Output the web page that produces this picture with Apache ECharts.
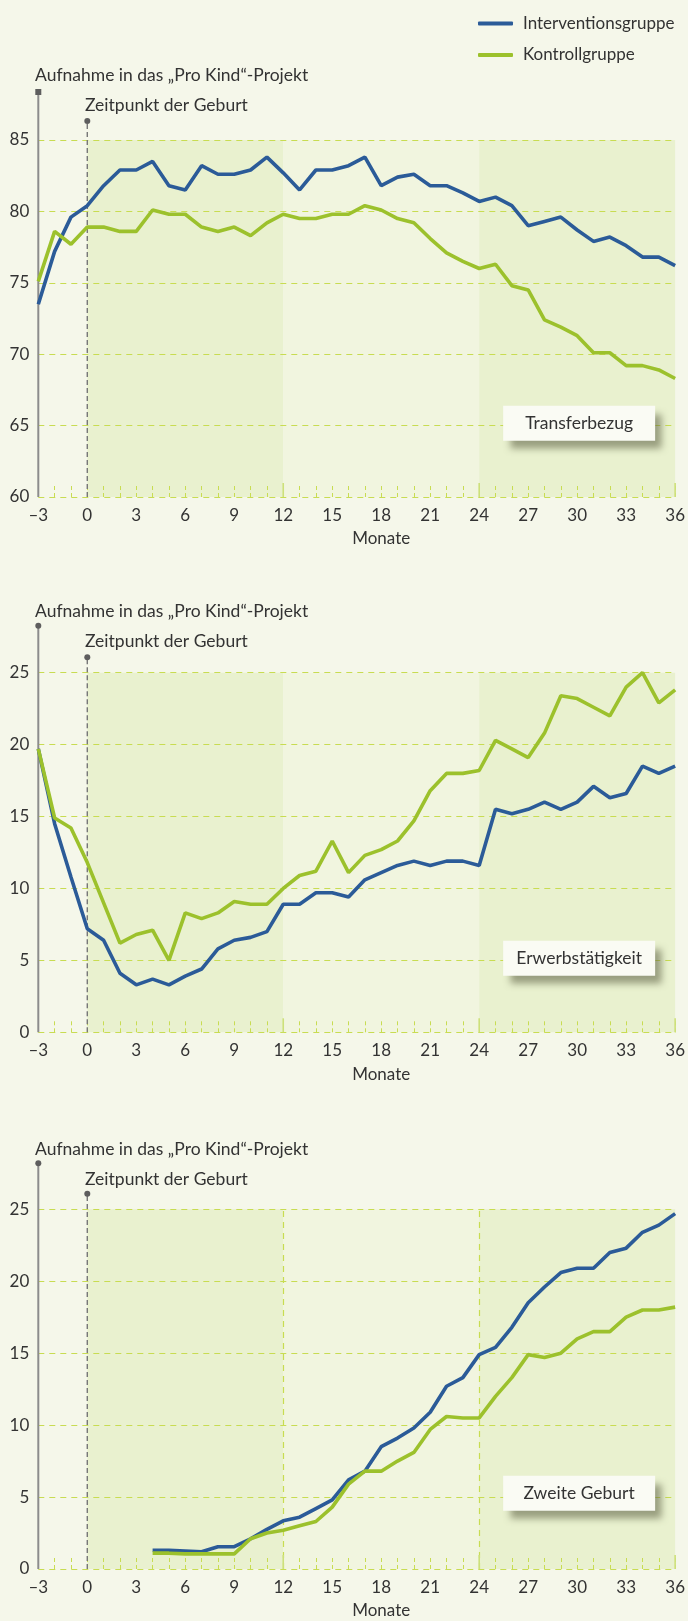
<!DOCTYPE html>
<html><head><meta charset="utf-8">
<script src="https://cdn.jsdelivr.net/npm/echarts@6/dist/echarts.min.js"></script>
<style>html,body{margin:0;padding:0;background:#f5f7ea;}#c{width:688px;height:1621px;}</style>
</head><body><div id="c"></div>
<script>
// ---------- data ----------
const months = [-3,-2,-1,0,1,2,3,4,5,6,7,8,9,10,11,12,13,14,15,16,17,18,19,20,21,22,23,24,25,26,27,28,29,30,31,32,33,34,35,36];
const seriesNames = ['Interventionsgruppe', 'Kontrollgruppe'];
const panelLabels = ['Transferbezug', 'Erwerbstätigkeit', 'Zweite Geburt'];
const titleText = 'Aufnahme in das „Pro Kind“-Projekt';
const birthText = 'Zeitpunkt der Geburt';
const xName = 'Monate';

const transferIntervention = [73.5,77.2,79.6,80.4,81.8,82.9,82.9,83.5,81.8,81.5,83.2,82.6,82.6,82.9,83.8,82.7,81.5,82.9,82.9,83.2,83.8,81.8,82.4,82.6,81.8,81.8,81.3,80.7,81.0,80.4,79.0,79.3,79.6,78.7,77.9,78.2,77.6,76.8,76.8,76.2];
const transferKontroll = [75.1,78.6,77.7,78.9,78.9,78.6,78.6,80.1,79.8,79.8,78.9,78.6,78.9,78.3,79.2,79.8,79.5,79.5,79.8,79.8,80.4,80.1,79.5,79.2,78.1,77.1,76.5,76.0,76.3,74.8,74.5,72.4,71.9,71.3,70.1,70.1,69.2,69.2,68.9,68.3];

const employmentIntervention = [19.7,14.5,10.8,7.2,6.4,4.1,3.3,3.7,3.3,3.9,4.4,5.8,6.4,6.6,7.0,8.9,8.9,9.7,9.7,9.4,10.6,11.1,11.6,11.9,11.6,11.9,11.9,11.6,15.5,15.2,15.5,16.0,15.5,16.0,17.1,16.3,16.6,18.5,18.0,18.5];
const employmentKontroll = [19.7,14.9,14.2,11.8,9.0,6.2,6.8,7.1,5.0,8.3,7.9,8.3,9.1,8.9,8.9,10.0,10.9,11.2,13.3,11.1,12.3,12.7,13.3,14.7,16.8,18.0,18.0,18.2,20.3,19.7,19.1,20.8,23.4,23.2,22.6,22.0,24.0,25.0,22.9,23.8];

const birthIntervention = [null,null,null,null,null,null,null,1.3,1.3,1.25,1.2,1.55,1.55,2.1,2.75,3.35,3.6,4.2,4.8,6.2,6.8,8.5,9.1,9.8,10.9,12.7,13.3,14.9,15.4,16.8,18.5,19.6,20.6,20.9,20.9,22.0,22.3,23.4,23.9,24.7];
const birthKontroll = [null,null,null,null,null,null,null,1.1,1.1,1.05,1.05,1.05,1.05,2.1,2.5,2.7,3.0,3.3,4.3,5.9,6.8,6.8,7.5,8.1,9.7,10.6,10.5,10.5,12.0,13.3,14.9,14.7,15.0,16.0,16.5,16.5,17.5,18.0,18.0,18.2];

const yRanges = [[60, 85], [0, 25], [0, 25]];
const bandEdges = [0, 12, 24, 36];
const vGridMonths = [12, 24];   // only in third panel
const panelData = [
  [transferIntervention, transferKontroll],
  [employmentIntervention, employmentKontroll],
  [birthIntervention, birthKontroll]
];

// ---------- layout / style ----------
const FONT = 'Lato, "Liberation Sans", sans-serif';
const BLUE = '#2b5b98', GREEN = '#9cc12c';
const BAND_DARK = '#e9f1cf', BAND_LIGHT = '#f1f5df';
const GRIDC = '#c8dc52';
const TXT = '#333333';
const layout = [
  {top: 140,   height: 357,   axisExt: 48, dotExt: 19,   titleOff: 64.5, birthOff: 35, boxOff: 56.3, marker: 'rect'},
  {top: 672.7, height: 359.6, axisExt: 47, dotExt: 15.5, titleOff: 61,   birthOff: 31, boxOff: 56.6, marker: 'circle'},
  {top: 1209.3,height: 359.7, axisExt: 46, dotExt: 15.5, titleOff: 60,   birthOff: 30, boxOff: 58.3, marker: 'circle'}
];

const chart = echarts.init(document.getElementById('c'), null, {renderer: 'canvas'});

const grids = [], xAxes = [], yAxes = [], series = [];
layout.forEach((L, i) => {
  grids.push({left: 38.3, right: 11, top: L.top, height: L.height});
  const tickStyle = {color: GRIDC, width: 1, type: [4, 3]};
  xAxes.push({
    type: 'value', gridIndex: i, min: -3, max: 36, interval: 3, z: 5,
    axisLine: {show: false},
    axisTick: {show: true, inside: true, length: 14, lineStyle: tickStyle},
    minorTick: {show: true, splitNumber: 3, length: 14, lineStyle: tickStyle},
    splitLine: {show: false},
    axisLabel: {fontSize: 17, color: TXT, margin: 10, fontFamily: FONT,
      formatter: v => (v < 0 ? '–' + Math.abs(v) : String(v))}
  });
  yAxes.push({
    type: 'value', gridIndex: i, min: yRanges[i][0], max: yRanges[i][1], interval: 5, z: 5,
    axisLine: {show: false}, axisTick: {show: false},
    splitLine: {show: true, lineStyle: {color: GRIDC, width: 1.2, type: [6, 5]}},
    axisLabel: {fontSize: 17, color: TXT, margin: 9, fontFamily: FONT}
  });
  const bands = [];
  for (let b = 0; b < bandEdges.length - 1; b++) {
    bands.push([{xAxis: bandEdges[b], itemStyle: {color: b % 2 === 0 ? BAND_DARK : BAND_LIGHT}}, {xAxis: bandEdges[b + 1]}]);
  }
  const bandSeries = {
    type: 'line', xAxisIndex: i, yAxisIndex: i, data: [], z: 1, silent: true,
    markArea: {silent: true, data: bands}
  };
  if (i === 2) {
    bandSeries.markLine = {
      silent: true, symbol: 'none', label: {show: false},
      lineStyle: {color: GRIDC, width: 1.2, type: [6, 5]},
      data: vGridMonths.map(m => ({xAxis: m}))
    };
  }
  series.push(bandSeries);
  panelData[i].forEach((arr, s) => {
    series.push({
      type: 'line', name: seriesNames[s], xAxisIndex: i, yAxisIndex: i, z: 10,
      data: months.map((m, k) => [m, arr[k]]),
      symbol: 'none', connectNulls: false,
      lineStyle: {color: s === 0 ? BLUE : GREEN, width: 3.6},
      itemStyle: {color: s === 0 ? BLUE : GREEN}
    });
  });
});

chart.setOption({
  backgroundColor: '#f5f7ea',
  animation: false,
  textStyle: {fontFamily: FONT},
  legend: {
    data: seriesNames, orient: 'vertical', left: 473, top: 8.5,
    itemWidth: 35, itemHeight: 4, icon: 'roundRect', itemGap: 11.5,
    textStyle: {fontSize: 17, color: TXT, fontFamily: FONT, lineHeight: 20, padding: [0, 0, 0, 5]}
  },
  grid: grids, xAxis: xAxes, yAxis: yAxes, series: series
});

// ---------- decorations derived from the axes ----------
const P = (i, x, y) => chart.convertToPixel({gridIndex: i}, [x, y]);
const elems = [];
layout.forEach((L, i) => {
  const [ymin, ymax] = yRanges[i];
  const [ax, bottom] = P(i, -3, ymin);
  const [, top] = P(i, -3, ymax);
  const [zx] = P(i, 0, ymin);
  const [rx] = P(i, 36, ymin);
  const axTop = top - L.axisExt;
  // y axis line
  elems.push({type: 'line', z: 7, shape: {x1: ax, y1: bottom, x2: ax, y2: axTop},
    style: {stroke: '#8c8c8c', lineWidth: 2}});
  if (L.marker === 'rect') {
    elems.push({type: 'rect', z: 8, shape: {x: ax - 3, y: axTop - 3, width: 6, height: 6}, style: {fill: '#5e5e5e'}});
  } else {
    elems.push({type: 'circle', z: 8, shape: {cx: ax, cy: axTop, r: 3}, style: {fill: '#5e5e5e'}});
  }
  // birth line
  const dTop = top - L.dotExt;
  elems.push({type: 'line', z: 7, shape: {x1: zx, y1: bottom, x2: zx, y2: dTop},
    style: {stroke: '#777', lineWidth: 1.4, lineDash: [5, 3]}});
  elems.push({type: 'circle', z: 8, shape: {cx: zx, cy: dTop, r: 3}, style: {fill: '#5e5e5e'}});
  // solid ticks at band edges
  [12, 24, 36].forEach(m => {
    const [tx] = P(i, m, ymin);
    elems.push({type: 'line', z: 6, shape: {x1: tx, y1: bottom, x2: tx, y2: bottom - 14},
      style: {stroke: '#cde07a', lineWidth: 1.6}});
  });
  // titles
  elems.push({type: 'text', z: 8, x: 35, y: top - L.titleOff,
    style: {text: titleText, fill: TXT, font: '17.5px ' + FONT, textVerticalAlign: 'middle'}});
  elems.push({type: 'text', z: 8, x: 85, y: top - L.birthOff,
    style: {text: birthText, fill: TXT, font: '17.5px ' + FONT, textVerticalAlign: 'middle'}});
  // x axis name
  const [mx] = P(i, 18, ymin);
  elems.push({type: 'text', z: 8, x: mx, y: bottom + 42,
    style: {text: xName, fill: TXT, font: '17px ' + FONT, textAlign: 'center', textVerticalAlign: 'middle'}});
  // label box
  const bw = 152, bh = 35;
  const bx = rx - 20 - bw, by = bottom - L.boxOff - bh;
  elems.push({type: 'rect', z: 20, shape: {x: bx, y: by, width: bw, height: bh},
    style: {fill: '#fafbf4', shadowBlur: 7, shadowOffsetX: 7, shadowOffsetY: 8, shadowColor: 'rgba(85,90,60,0.55)'}});
  elems.push({type: 'text', z: 21, x: bx + bw / 2, y: by + bh / 2,
    style: {text: panelLabels[i], fill: TXT, font: '17.5px ' + FONT, textAlign: 'center', textVerticalAlign: 'middle'}});
});
chart.setOption({graphic: {elements: elems}});
</script></body></html>
